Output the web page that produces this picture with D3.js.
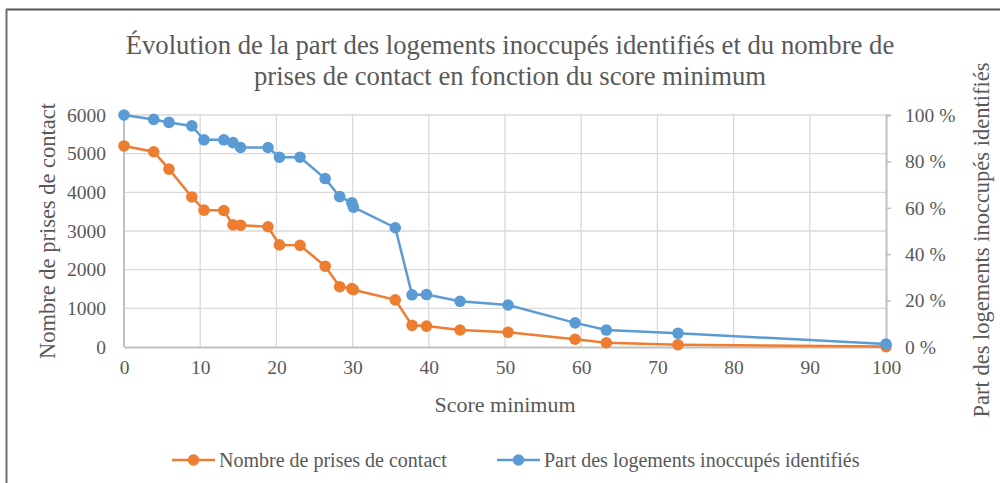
<!DOCTYPE html>
<html>
<head>
<meta charset="utf-8">
<script src="https://cdn.jsdelivr.net/npm/d3@7"></script>
<style>
    body { margin: 0; background: #ffffff; }
    svg text { font-family: "Liberation Serif", "Times New Roman", serif; fill: #595959; }
</style>
</head>
<body>
<svg id="chart"></svg>
<script>
// Scores (x values) shared by both series
const scores = [0, 3.9, 5.9, 8.9, 10.5, 13.1, 14.3, 15.3, 18.9, 20.4, 23.1, 26.4, 28.3, 29.9, 30.1,
    35.6, 37.8, 39.7, 44.1, 50.4, 59.2, 63.3, 72.7, 100];
// Number of contacts (left axis)
const contacts = [5200, 5050, 4600, 3880, 3540, 3530, 3160, 3150, 3110, 2640, 2630, 2090, 1560, 1510, 1480,
    1220, 560, 540, 440, 380, 200, 110, 60, 10];
// Share of identified vacant dwellings, in % (right axis)
const shares = [100, 98.1, 96.8, 95.3, 89.3, 89.3, 88.1, 86, 86, 81.8, 81.8, 72.6, 64.8, 62.2, 60.3,
    51.4, 22.5, 22.6, 19.7, 18.1, 10.4, 7.3, 5.9, 1.3];

const x_ticks = [0, 10, 20, 30, 40, 50, 60, 70, 80, 90, 100];
const left_ticks = [0, 1000, 2000, 3000, 4000, 5000, 6000];
const right_ticks = [0, 20, 40, 60, 80, 100];

const title_lines = ["Évolution de la part des logements inoccupés identifiés et du nombre de",
    "prises de contact en fonction du score minimum"];
const series_names = ["Nombre de prises de contact", "Part des logements inoccupés identifiés"];

// Dimensions
const width = 1000, height = 483;
const plot = { left: 124, right: 886, top: 115, bottom: 347 };
const orange = "#ED7D31", blue = "#5B9BD5";
const serif = "'Liberation Serif', 'Times New Roman', serif";

const svg = d3.select("#chart").attr("width", width).attr("height", height);

// Frame (top and left edges only are visible)
svg.append("line").attr("x1", 6).attr("x2", width).attr("y1", 9.5).attr("y2", 9.5)
    .attr("stroke", "#555555").attr("stroke-width", 2);
svg.append("line").attr("x1", 6.5).attr("x2", 6.5).attr("y1", 9).attr("y2", height)
    .attr("stroke", "#6e6e6e").attr("stroke-width", 2);

// Scales
const x_scale = d3.scaleLinear().domain([0, 100]).range([plot.left, plot.right]);
const y_left = d3.scaleLinear().domain([0, 6000]).range([plot.bottom, plot.top]);
const y_right = d3.scaleLinear().domain([0, 100]).range([plot.bottom, plot.top]);

// Gridlines
svg.append("g").selectAll("line").data(left_ticks.slice(1)).enter().append("line")
    .attr("x1", plot.left).attr("x2", plot.right)
    .attr("y1", d => y_left(d)).attr("y2", d => y_left(d))
    .attr("stroke", "#d9d9d9").attr("stroke-width", 1.3);
svg.append("g").selectAll("line").data(x_ticks.slice(1, -1)).enter().append("line")
    .attr("x1", d => x_scale(d)).attr("x2", d => x_scale(d))
    .attr("y1", plot.top).attr("y2", plot.bottom)
    .attr("stroke", "#d9d9d9").attr("stroke-width", 1.3);

// Axes
const x_axis = svg.append("g")
    .attr("transform", `translate(0,${plot.bottom})`)
    .call(d3.axisBottom(x_scale).tickValues(x_ticks).tickSize(0).tickPadding(13));
const left_axis = svg.append("g")
    .attr("transform", `translate(${plot.left},0)`)
    .call(d3.axisLeft(y_left).tickValues(left_ticks).tickSize(0).tickPadding(18).tickFormat(d3.format("d")));
const right_axis = svg.append("g")
    .attr("transform", `translate(${plot.right},0)`)
    .call(d3.axisRight(y_right).tickValues(right_ticks).tickSize(5).tickPadding(14).tickFormat(d => d + " %"));

[x_axis, left_axis, right_axis].forEach(ax => {
    ax.attr("font-family", serif).attr("font-size", 19.5);
    ax.select(".domain").attr("stroke", "#bfbfbf").attr("stroke-width", 2);
    ax.selectAll(".tick line").attr("stroke", "#bfbfbf").attr("stroke-width", 1.5);
    ax.selectAll(".tick text").attr("fill", "#595959");
});
left_axis.select(".domain").attr("d", `M0,${plot.top}V${plot.bottom}`);

// Axis titles
svg.append("text").attr("transform", `translate(55,${(plot.top + plot.bottom) / 2}) rotate(-90)`)
    .attr("text-anchor", "middle").style("font-size", "22.5px").text("Nombre de prises de contact");
svg.append("text").attr("transform", `translate(989,240) rotate(-90)`)
    .attr("text-anchor", "middle").style("font-size", "22.5px").text("Part des logements inoccupés identifiés");
svg.append("text").attr("x", 505).attr("y", 412)
    .attr("text-anchor", "middle").style("font-size", "22px").text("Score minimum");

// Title
svg.append("g").selectAll("text").data(title_lines).enter().append("text")
    .attr("x", 510).attr("y", (d, i) => 54 + i * 31)
    .attr("text-anchor", "middle").style("font-size", "26.7px").text(d => d);

// Series
const contact_points = scores.map((s, i) => ({ x: s, y: contacts[i] }));
const share_points = scores.map((s, i) => ({ x: s, y: shares[i] }));

function draw_series(points, y_scale, color) {
    const line = d3.line().x(d => x_scale(d.x)).y(d => y_scale(d.y));
    svg.append("path").datum(points).attr("d", line)
        .attr("fill", "none").attr("stroke", color).attr("stroke-width", 2.5);
    svg.append("g").selectAll("circle").data(points).enter().append("circle")
        .attr("cx", d => x_scale(d.x)).attr("cy", d => y_scale(d.y))
        .attr("r", 5.8).attr("fill", color);
}
draw_series(contact_points, y_left, orange);
draw_series(share_points, y_right, blue);

// Legend
const legend_items = [
    { name: series_names[0], color: orange, x: 172 },
    { name: series_names[1], color: blue, x: 497 }
];
const legend = svg.append("g").selectAll("g").data(legend_items).enter().append("g")
    .attr("transform", d => `translate(${d.x},460)`);
legend.append("line").attr("x1", 0).attr("x2", 43).attr("y1", 0).attr("y2", 0)
    .attr("stroke", d => d.color).attr("stroke-width", 2.5);
legend.append("circle").attr("cx", 21.5).attr("cy", 0).attr("r", 5.8).attr("fill", d => d.color);
legend.append("text").attr("x", 47).attr("y", 6.5).style("font-size", "20px").text(d => d.name);
</script>
</body>
</html>
